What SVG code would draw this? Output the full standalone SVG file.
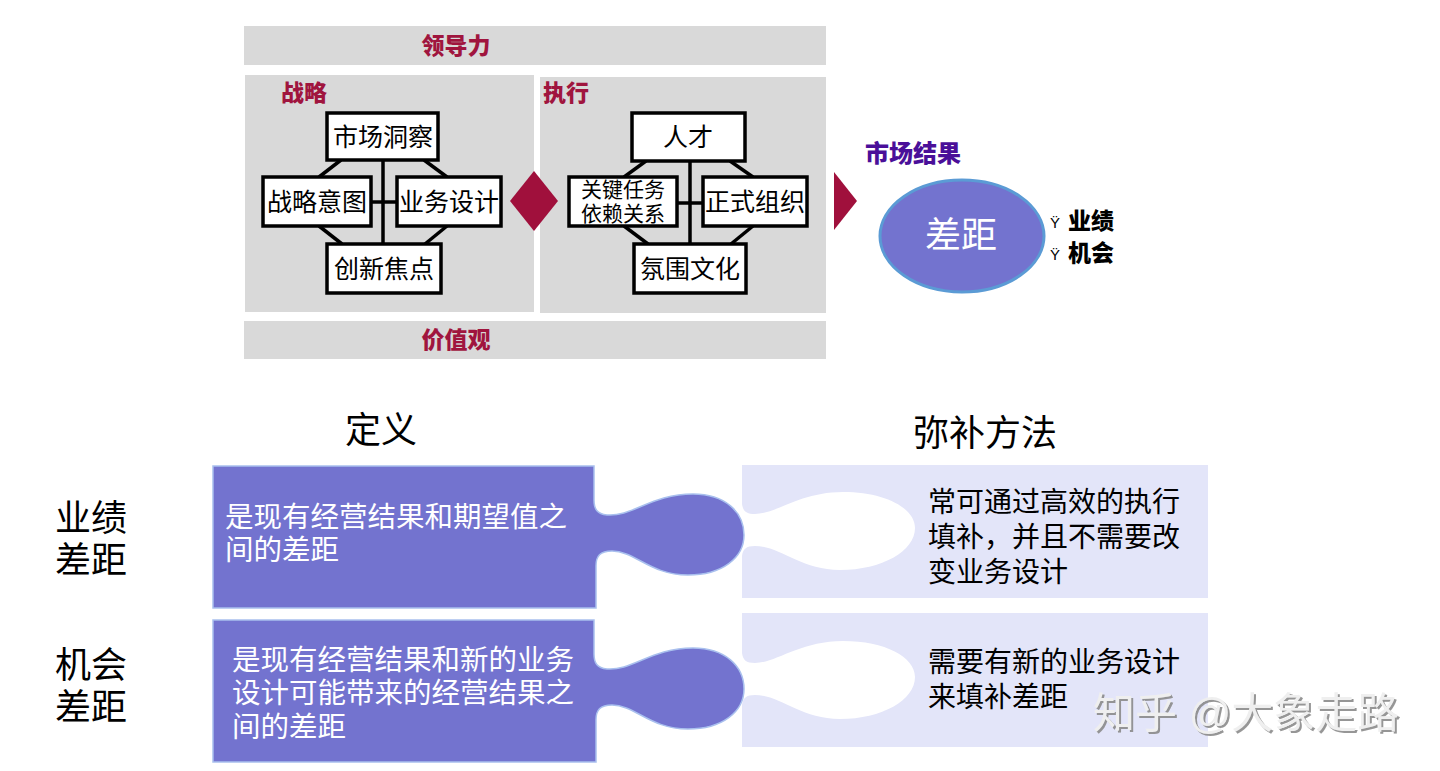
<svg xmlns="http://www.w3.org/2000/svg" width="1440" height="771" viewBox="0 0 1440 771">
<style>
text{font-family:"Liberation Sans","Noto Sans CJK SC",sans-serif;dominant-baseline:central}
.bar{fill:#d9d9d9}
.red{fill:#a0153e;font-weight:900;font-size:23px}
.box{fill:#fff;stroke:#000;stroke-width:3.5}
.bt{font-size:25px;fill:#000;text-anchor:middle}
.bt2{font-size:21px;fill:#000;text-anchor:middle}
.ln{stroke:#000;stroke-width:3.5;fill:none}
.pur{fill:#7373cf;stroke:#a9c0ee;stroke-width:1.5}
.lite{fill:#e3e5f9}
.wt{fill:#fff;font-size:28.5px}
.bk{fill:#000;font-size:28px}
.hd{fill:#000;font-size:36px}
</style>
<defs>
<filter id="sh" x="-10%" y="-20%" width="130%" height="150%">
<feDropShadow dx="2" dy="2" stdDeviation="0.6" flood-color="#8a8a8a" flood-opacity="0.9"/>
</filter>
</defs>
<rect width="1440" height="771" fill="#fff"/>

<g id="leadership">
<rect class="bar" x="244" y="26" width="582" height="39"/>
<text class="red" x="456" y="46" text-anchor="middle">领导力</text>
</g>
<g id="values">
<rect class="bar" x="244" y="321" width="582" height="38"/>
<text class="red" x="456" y="340" text-anchor="middle">价值观</text>
</g>

<g id="strategy-panel">
<rect class="bar" x="245" y="75" width="289" height="237"/>
<text class="red" x="281" y="93">战略</text>
</g>
<g id="execution-panel">
<rect class="bar" x="540" y="77" width="286" height="236"/>
<text class="red" x="543" y="93">执行</text>
</g>

<g id="connectors">
<line class="ln" x1="383" y1="160" x2="383" y2="244"/>
<line class="ln" x1="371" y1="202" x2="397" y2="202"/>
<line class="ln" x1="341" y1="160" x2="319" y2="177"/>
<line class="ln" x1="424" y1="160" x2="447" y2="177"/>
<line class="ln" x1="319" y1="226" x2="342" y2="244"/>
<line class="ln" x1="447" y1="226" x2="425" y2="244"/>
<line class="ln" x1="690" y1="161" x2="690" y2="244"/>
<line class="ln" x1="677" y1="203" x2="703" y2="203"/>
<line class="ln" x1="646" y1="161" x2="624" y2="177"/>
<line class="ln" x1="730" y1="161" x2="753" y2="177"/>
<line class="ln" x1="624" y1="226" x2="648" y2="244"/>
<line class="ln" x1="753" y1="226" x2="731" y2="244"/>
</g>

<g id="n-market-insight"><rect class="box" x="327" y="113" width="111" height="47"/><text class="bt" x="383" y="137">市场洞察</text></g>
<g id="n-strategic-intent"><rect class="box" x="263" y="177" width="108" height="49"/><text class="bt" x="317" y="202">战略意图</text></g>
<g id="n-business-design"><rect class="box" x="397" y="177" width="104" height="49"/><text class="bt" x="449" y="202">业务设计</text></g>
<g id="n-innovation"><rect class="box" x="327" y="244" width="114" height="49"/><text class="bt" x="384" y="269">创新焦点</text></g>

<g id="n-talent"><rect class="box" x="632" y="113" width="113" height="48"/><text class="bt" x="688" y="137">人才</text></g>
<g id="n-critical-tasks"><rect class="box" x="569" y="177" width="108" height="49"/><text class="bt2" x="623" y="189.5">关键任务</text><text class="bt2" x="623" y="213.5">依赖关系</text></g>
<g id="n-formal-org"><rect class="box" x="703" y="177" width="104" height="49"/><text class="bt" x="755" y="202">正式组织</text></g>
<g id="n-culture"><rect class="box" x="634" y="244" width="112" height="49"/><text class="bt" x="690" y="269">氛围文化</text></g>

<g id="diamond"><polygon points="534,171 558,201 534,231 510,201" fill="#a0103c"/></g>
<g id="triangle"><polygon points="834,172 857,201 834,230" fill="#a0103c"/></g>

<g id="market-result">
<text x="865" y="153" font-size="24" font-weight="900" fill="#4a0f99">市场结果</text>
<ellipse cx="962" cy="236" rx="82" ry="56" fill="#7373cf" stroke="#5b9bd5" stroke-width="3"/>
<text x="961" y="235" font-size="36" fill="#fff" text-anchor="middle">差距</text>
<text x="1050" y="222" font-size="15" fill="#000">Ÿ</text>
<text x="1068" y="221" font-size="23" font-weight="900" fill="#000">业绩</text>
<text x="1050" y="254" font-size="15" fill="#000">Ÿ</text>
<text x="1068" y="253" font-size="23" font-weight="900" fill="#000">机会</text>
</g>

<g id="headers">
<text class="hd" x="381" y="430" text-anchor="middle">定义</text>
<text class="hd" x="985" y="433" text-anchor="middle">弥补方法</text>
<text class="hd" x="55" y="518">业绩</text>
<text class="hd" x="55" y="560">差距</text>
<text class="hd" x="55" y="665">机会</text>
<text class="hd" x="55" y="707">差距</text>
</g>

<g id="remedy-1">
<rect class="lite" x="742" y="465" width="466" height="133"/>
<path d="M738,500 L742,504 C743,511 746,514 755,514 C776,514 800,492 843,492 C885,492 915,508 915,528 C915,551 882,570 840,570 C800,570 780,546 755,546 C746,546 743,549 742,556 L738,560 Z" fill="#fff"/>
<text class="bk" x="928" y="502">常可通过高效的执行</text>
<text class="bk" x="928" y="537">填补，并且不需要改</text>
<text class="bk" x="928" y="572">变业务设计</text>
</g>
<g id="remedy-2">
<rect class="lite" x="742" y="613" width="466" height="134"/>
<path transform="translate(0,149)" d="M738,500 L742,504 C743,511 746,514 755,514 C776,514 800,492 843,492 C885,492 915,508 915,528 C915,551 882,570 840,570 C800,570 780,546 755,546 C746,546 743,549 742,556 L738,560 Z" fill="#fff"/>
<text class="bk" x="928" y="662">需要有新的业务设计</text>
<text class="bk" x="928" y="697">来填补差距</text>
</g>

<g id="definition-1">
<path class="pur" d="M213,466 H594 V500 C594,509 597,514 607,515 C632,517 652,494 693,494 C725,494 744,512 744,535 C744,558 722,575 688,575 C650,575 635,551 612,551 C600,551 596,556 596,566 V608 H213 Z"/>
<text class="wt" x="225" y="517">是现有经营结果和期望值之</text>
<text class="wt" x="225" y="550">间的差距</text>
</g>
<g id="definition-2">
<path class="pur" transform="translate(0,154)" d="M213,466 H594 V500 C594,509 597,514 607,515 C632,517 652,494 693,494 C725,494 744,512 744,535 C744,558 722,575 688,575 C650,575 635,551 612,551 C600,551 596,556 596,566 V608 H213 Z"/>
<text class="wt" x="232" y="660">是现有经营结果和新的业务</text>
<text class="wt" x="232" y="693">设计可能带来的经营结果之</text>
<text class="wt" x="232" y="727">间的差距</text>
</g>

<g id="watermark">
<text x="1093" y="713" font-size="42" fill="#efefef" filter="url(#sh)">知乎 @大象走路</text>
</g>
</svg>
